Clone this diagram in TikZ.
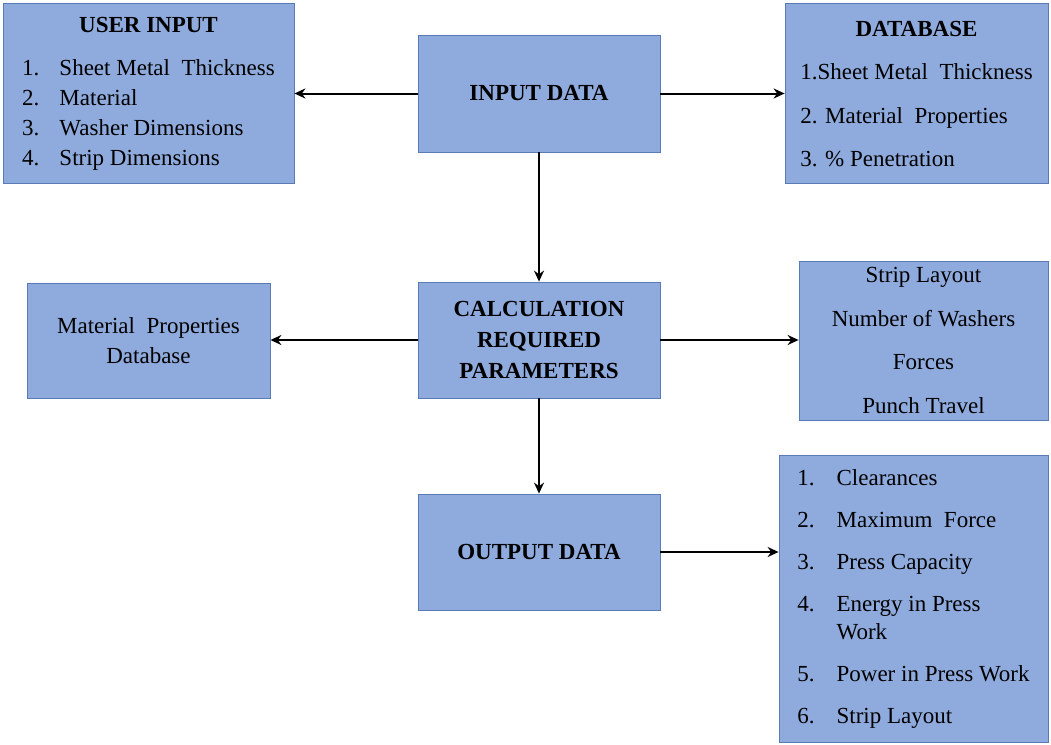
\documentclass[tikz,border=0pt]{standalone}
\usepackage{fontspec}
\setmainfont{Liberation Serif}
\usepackage{xcolor}
\usetikzlibrary{arrows.meta, positioning}
\definecolor{boxfill}{HTML}{8FAADC}
\definecolor{boxline}{HTML}{5A7BB5}

\tikzset{
    blockbox/.style={draw=boxline, fill=boxfill, line width=0.8pt, inner sep=0pt,
        font=\fontsize{23}{30}\selectfont, align=center},
    flow/.style={-{Stealth[length=11pt,width=10pt]}, line width=2pt, black}
}

\begin{document}
\begin{tikzpicture}[x=1pt, y=-1pt]
        \useasboundingbox (0,0) rectangle (1051,744);
        % centre column
        \node[blockbox, minimum width=242pt, minimum height=117pt, font=\fontsize{23}{30}\selectfont\bfseries] (input) at (539,93.5) {INPUT DATA};
        \node[blockbox, minimum width=242pt, minimum height=116pt, font=\fontsize{23}{31}\selectfont\bfseries] (calc) at (539,340) {CALCULATION\\REQUIRED\\PARAMETERS};
        \node[blockbox, minimum width=242pt, minimum height=116pt, font=\fontsize{23}{30}\selectfont\bfseries] (output) at (539,552) {OUTPUT DATA};
        % side boxes
        \node[blockbox, minimum width=291pt, minimum height=180pt] (user) at (148.5,93) {%
            \begin{tabular}{@{}l@{\hspace{20pt}}l@{}}
            \multicolumn{2}{c}{\bfseries USER INPUT}\\[13pt]
            1. & Sheet Metal\ \ Thickness\\
            2. & Material\\
            3. & Washer Dimensions\\
            4. & Strip Dimensions
            \end{tabular}};
        \node[blockbox, minimum width=263pt, minimum height=180pt, font=\fontsize{23}{43.5}\selectfont] (dbase) at (916.5,93) {%
            \begin{tabular}{@{}l@{}}
            \multicolumn{1}{c}{\bfseries DATABASE}\\
            1.Sheet Metal\ \ Thickness\\
            2. Material\ \ Properties\\
            3. \% Penetration
            \end{tabular}};
        \node[blockbox, minimum width=243pt, minimum height=115pt] (matdb) at (148.5,340.5) {Material\ \ Properties\\Database};
        \node[blockbox, minimum width=249pt, minimum height=159pt, font=\fontsize{23}{43.5}\selectfont] (layout) at (923.5,340.5) {Strip Layout\\Number of Washers\\Forces\\Punch Travel};
        \node[blockbox, minimum width=269pt, minimum height=287pt, font=\fontsize{23}{28}\selectfont] (results) at (913.5,598.5) {%
            \begin{tabular}{@{}l@{\hspace{22pt}}l@{}}
            1. & Clearances\\[14pt]
            2. & Maximum\ \ Force\\[14pt]
            3. & Press Capacity\\[14pt]
            4. & Energy in Press\\
               & Work\\[14pt]
            5. & Power in Press Work\\[14pt]
            6. & Strip Layout
            \end{tabular}};
        % connectors
        \draw[flow] (input.west) -- (user.east |- input.west);
        \draw[flow] (input.east) -- (dbase.west |- input.east);
        \draw[flow] (input.south) -- (calc.north);
        \draw[flow] (calc.west) -- (matdb.east |- calc.west);
        \draw[flow] (calc.east) -- (layout.west |- calc.east);
        \draw[flow] (calc.south) -- (output.north);
        \draw[flow] (output.east) -- (results.west |- output.east);
    \end{tikzpicture}
\end{document}
